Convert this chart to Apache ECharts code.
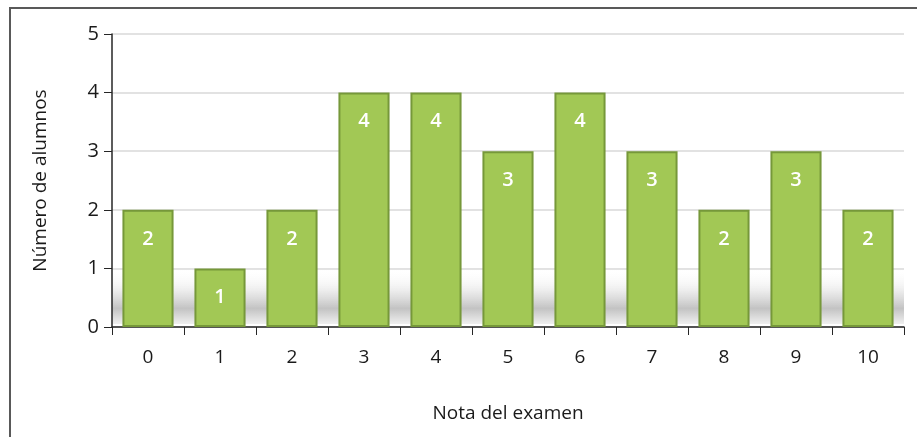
<!DOCTYPE html>
<html>
<head>
<meta charset="utf-8">
<script src="https://cdn.jsdelivr.net/npm/echarts@6/dist/echarts.min.js"></script>
<style>
  html, body { margin: 0; padding: 0; background: #fff; }
  #main { width: 917px; height: 437px; }
</style>
</head>
<body>
<div id="main"></div>
<script>
// grades and number of students
const notas = ['0', '1', '2', '3', '4', '5', '6', '7', '8', '9', '10'];
const alumnos = [2, 1, 2, 4, 4, 3, 4, 3, 2, 3, 2];
const yTicks = [0, 1, 2, 3, 4, 5];

const font = '"Open Sans", "DejaVu Sans", sans-serif';

let myChart = echarts.init(document.getElementById('main'));
let option = {
    animation: false,
    graphic: [
        {
            type: 'rect',
            shape: { x: 10, y: 8, width: 940, height: 460 },
            style: { fill: 'none', stroke: '#595959', lineWidth: 2 },
            z: 0
        }
    ],
    grid: { left: 112, right: 13, top: 34, bottom: 110 },
    xAxis: {
        type: 'category',
        data: notas,
        name: 'Nota del examen',
        nameLocation: 'middle',
        nameGap: 77,
        nameTextStyle: { fontFamily: font, fontSize: 19, color: '#1a1a1a' },
        axisLine: { lineStyle: { color: '#262626', width: 1.5 } },
        axisTick: { show: true, alignWithLabel: false, length: 8, lineStyle: { color: '#262626' } },
        axisLabel: { fontFamily: font, fontSize: 19, color: '#1a1a1a', margin: 21 }
    },
    yAxis: {
        type: 'value',
        min: yTicks[0],
        max: yTicks[yTicks.length - 1],
        interval: 1,
        name: 'Número de alumnos',
        nameLocation: 'middle',
        nameGap: 62,
        nameTextStyle: { fontFamily: font, fontSize: 19, color: '#1a1a1a' },
        axisLine: { show: true, lineStyle: { color: '#262626', width: 1.5 } },
        axisTick: { show: true, length: 8, lineStyle: { color: '#262626' } },
        axisLabel: { fontFamily: font, fontSize: 20, color: '#1a1a1a', margin: 13 },
        splitLine: { lineStyle: { color: '#d9d9d9', width: 1.5 } }
    },
    series: [
        {
            name: 'alumnos',
            type: 'bar',
            data: alumnos,
            barCategoryGap: '29%',
            itemStyle: {
                color: '#a2c855',
                borderColor: '#76983a',
                borderWidth: 2
            },
            label: {
                show: true,
                position: 'insideTop',
                distance: 19,
                color: '#ffffff',
                fontFamily: font,
                fontSize: 20,
                fontWeight: 600
            },
            markArea: {
                silent: true,
                itemStyle: {
                    color: {
                        type: 'linear', x: 0, y: 0, x2: 0, y2: 1,
                        colorStops: [
                            { offset: 0, color: 'rgba(255,255,255,0)' },
                            { offset: 0.35, color: 'rgba(238,238,238,0.8)' },
                            { offset: 0.72, color: 'rgba(195,195,195,1)' },
                            { offset: 1, color: 'rgba(240,240,240,1)' }
                        ]
                    }
                },
                data: [[{ yAxis: 0.05, xAxis: '0' }, { yAxis: 1.0, xAxis: '10' }]],
                z: 0
            },
            z: 2
        }
    ]
};
myChart.setOption(option);
</script>
</body>
</html>
